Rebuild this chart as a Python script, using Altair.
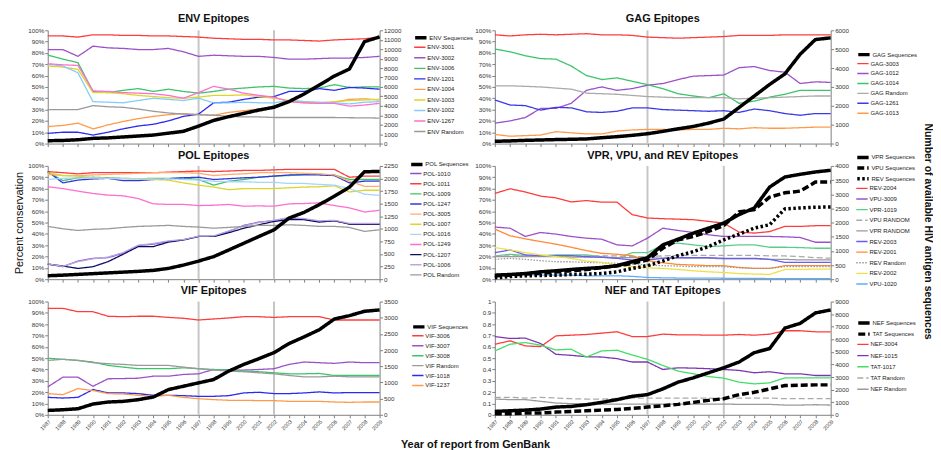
import altair as alt
import pandas as pd

FONT = "Liberation Sans"
YEARS = list(range(1987, 2010))
MARK_YEARS = [1997, 2002]

# ---------------- ENV ----------------
ENV_SEQ = {"ENV Sequences": [300, 330, 400, 550, 600, 700, 800, 900, 1100, 1300, 1850, 2450, 2850, 3200, 3550,
                             3850, 4450, 5250, 6200, 7150, 7900, 10800, 11300]}
ENV_PCT = {
    "ENV-3001": [95, 95, 94, 96, 96, 95.5, 95.5, 95, 95, 94.5, 94, 93, 92.5, 92, 92, 91.5, 91.5, 91, 90.5, 91.5, 92, 92.5, 94],
    "ENV-3002": [83, 83, 77, 86, 84.5, 84, 83, 83, 84, 81, 77, 78, 77.5, 77, 77, 76, 74.5, 74.5, 75, 75.5, 75.5, 76, 77],
    "ENV-1006": [78, 74.5, 71.5, 46, 45, 47, 48.5, 46, 48, 46, 44.5, 46, 48, 49, 50, 50.5, 49, 48.5, 49, 52, 49.5, 50, 50],
    "ENV-1201": [9, 10, 10, 7.5, 10, 13, 15.5, 17, 20, 24, 26, 36, 36.5, 39, 41, 41.5, 46, 46, 48.5, 47, 49.5, 49, 48],
    "ENV-1004": [15, 16, 18, 13, 16.5, 19.5, 22, 24, 25.5, 26.5, 25.5, 25, 27.5, 29, 30.5, 31.5, 37, 36, 35.5, 36.5, 39, 39.5, 38.5],
    "ENV-1003": [68.5, 67.5, 65.5, 45, 45, 44, 42.5, 41.5, 40.5, 40, 41, 42.5, 42.5, 43, 41.5, 40, 38, 37, 36, 37, 38, 38.5, 39],
    "ENV-1002": [70, 68.5, 62.5, 37, 36.5, 36, 38, 40, 39, 38, 40, 36, 36, 36.5, 36, 36, 38, 37, 36.5, 36, 35, 36.5, 37],
    "ENV-1267": [70.5, 69.5, 69, 46.5, 46, 45, 44.5, 44, 42.5, 40, 45, 50.5, 48, 44.5, 42.5, 41, 37, 36, 35.5, 35.5, 33, 34, 35.5],
    "ENV Random": [30, 30, 30, 33.5, 32.5, 32, 30.5, 28.5, 27, 26, 25.5, 25, 24, 23.5, 23.5, 23, 23, 23, 23, 23, 22.8, 22.7, 22.5],
}

# ---------------- GAG ----------------
GAG_SEQ = {"GAG Sequences": [120, 140, 170, 190, 210, 225, 245, 310, 365, 435, 520, 645, 780, 905, 1080, 1300, 1910,
                             2520, 3130, 3690, 4730, 5510, 5600]}
GAG_PCT = {
    "GAG-3003": [96, 95, 96, 96.5, 96, 96.5, 97, 96, 96, 95.5, 94, 93.5, 93, 93.5, 94, 94.5, 95.5, 95.5, 95.5, 96, 96, 96, 96],
    "GAG-1012": [18, 20, 23, 31, 31, 35.5, 47, 50, 47, 48.5, 51.5, 53, 56.5, 59.5, 60, 60.5, 67, 68, 64.5, 63, 53, 54.5, 54],
    "GAG-1014": [83.5, 81, 77.5, 75, 74.5, 68.5, 60, 56.5, 58, 55, 52, 48.5, 44, 42, 40.5, 44, 35.5, 37.5, 41, 43.5, 47, 47, 47],
    "GAG Random": [51, 51, 50.5, 50, 49, 48, 44.5, 44, 43.5, 42.5, 41.5, 41, 40.5, 40.5, 40.5, 40.5, 39.5, 40, 40.5, 41, 41.5, 42, 42],
    "GAG-1261": [38.5, 34, 33.5, 29.5, 32, 31.5, 28, 27.5, 28.5, 31.5, 31.5, 30, 29.5, 29, 28.5, 29, 27.5, 30.5, 29, 26.5, 25, 26.5, 26.5],
    "GAG-1013": [8, 6.5, 7, 7.5, 10.5, 9.5, 8.5, 8.5, 11, 12, 12.5, 12.5, 12, 12.5, 12.5, 13.5, 13, 14, 13.5, 13.5, 14, 14.5, 14.5],
}

# ---------------- POL ----------------
POL_SEQ = {"POL Sequences": [68, 80, 95, 110, 125, 140, 155, 175, 214, 280, 360, 448, 580, 714, 848, 980, 1214, 1328,
                             1480, 1648, 1828, 2134, 2140]}
POL_PCT = {
    "POL-1010": [13.3, 11, 16, 18.4, 19, 22.9, 29.7, 30.9, 33.3, 34.7, 37.7, 37.7, 42.2, 47.5, 50.4, 51.6, 54, 53.1, 51, 51.6, 48.7, 48.7, 48.7],
    "POL-1011": [95, 94, 93, 94, 94, 94, 94, 94, 94.5, 95, 95.5, 95, 95.5, 96, 96, 96.5, 97, 97, 97, 97, 90, 91, 91],
    "POL-1009": [94.7, 87, 89.5, 90, 89.5, 89, 88.7, 89, 89, 89.5, 88, 83, 86.5, 88, 90, 91, 91.5, 92.5, 92.5, 92, 88, 88, 88],
    "POL-1247": [95, 85, 87.5, 88.5, 89, 87, 87, 88, 88.7, 89.5, 90, 88, 88.7, 89.5, 90, 91, 92, 92, 92, 91.5, 85, 86.5, 86.5],
    "POL-3005": [92.5, 91.5, 91.4, 92, 92.5, 93, 93.5, 94, 94, 94, 93.5, 91.5, 92.5, 93, 94, 94, 94, 93.5, 93, 92, 86.5, 82, 82],
    "POL-1007": [94, 91.5, 91, 89.5, 89, 88.7, 88.5, 88, 87.5, 85, 83, 81.3, 79, 80, 80, 80, 80.7, 81.3, 81.6, 82.5, 77, 78.5, 78.5],
    "POL-1016": [88, 89, 89.5, 89.5, 89, 88.7, 88.7, 88.5, 88.7, 88, 87.5, 86.5, 86, 86, 85.5, 85.5, 84.5, 84.5, 83.7, 83, 80, 75, 74],
    "POL-1249": [81.6, 80, 77.7, 75.7, 74.2, 73.6, 71.2, 66.5, 66, 66, 65, 65.3, 66, 64.4, 64.7, 64.4, 66.5, 66.8, 67.4, 65, 63, 59.3, 60.8],
    "POL-1207": [13.3, 11.6, 9.5, 11, 15.5, 22, 28.8, 28.8, 32.7, 34.7, 37.7, 37.7, 41, 45, 48, 51, 52.5, 52.5, 50.4, 51.6, 48.7, 48.7, 48.7],
    "POL-1006": [13.5, 11.3, 15.5, 18, 19.5, 23.5, 30, 31.5, 33.8, 35, 38, 38.2, 42.6, 47, 50, 52, 54.4, 53.5, 51.5, 52, 49.2, 49.2, 49.2],
    "POL Random": [46.6, 44.5, 43, 44, 44.5, 45.7, 46.6, 47, 47.5, 46.6, 46, 45, 45.7, 46.6, 47.5, 47.5, 48, 47.5, 46.6, 46.6, 45.7, 42.2, 43.6],
}

# ---------------- VPR / VPU / REV ----------------
VPR_SEQ = {
    "VPR Sequences": [142, 166, 200, 260, 297, 344, 380, 415, 475, 617, 760, 1210, 1412, 1626, 1804, 1982, 2279, 2516, 3252, 3608, 3703, 3786, 3846],
    "VPU Sequences": [119, 142, 178, 214, 250, 297, 344, 404, 475, 558, 677, 1092, 1389, 1507, 1685, 1899, 2374, 2457, 2896, 3050, 3110, 3430, 3430],
    "REV Sequences": [47, 95, 119, 130, 142, 166, 178, 200, 260, 380, 475, 641, 831, 973, 1151, 1389, 1590, 1804, 1923, 2481, 2516, 2540, 2552],
}
VPR_PCT = {
    "REV-2004": [75.7, 79.8, 77, 73.3, 71.8, 68.2, 69.4, 68, 68, 57, 54, 53.4, 53, 52.5, 51, 49.5, 41.5, 40.7, 42, 46.6, 46.6, 47.2, 47.2],
    "VPU-3009": [46, 45, 37.7, 41.2, 39.8, 37.7, 36.2, 35.3, 30.3, 29.4, 36.2, 45, 43, 41.2, 39.2, 37.7, 37.7, 37.7, 37.7, 37.4, 36.8, 32.6, 32.6],
    "VPR-1019": [20.5, 22, 20.8, 20.8, 21.4, 21.4, 21.4, 19.9, 18.4, 23.4, 23.4, 30.3, 31.8, 30.3, 28.8, 29.4, 30.3, 30.3, 28.2, 28.2, 27.9, 27.3, 27.3],
    "VPU RANDOM": [20.5, 20.5, 20.5, 20.5, 20.5, 20.5, 20.5, 20.5, 20.5, 20, 20, 20.5, 21, 21, 21, 21, 21, 21, 20.5, 20.5, 20, 19, 18.5],
    "VPR RANDOM": [20, 20, 20, 20, 20, 19.5, 19.5, 19.5, 19, 19, 19, 18.5, 18.5, 18.5, 18.5, 18, 18, 18, 17.5, 17.5, 17, 17, 17],
    "REV-2003": [23.4, 25.8, 21.4, 20.8, 20.8, 20.8, 19.9, 19.3, 18.4, 16.9, 16.9, 18.4, 19, 19, 19, 18.4, 18.4, 18.4, 17.5, 14.8, 14.8, 14.8, 14.8],
    "REV-2001": [44.2, 38.3, 35.6, 33.2, 30.9, 28.2, 25.2, 22.8, 22, 20.8, 16.3, 14.5, 13, 12.5, 11.9, 11.9, 10.4, 9.5, 9.5, 11.9, 11.9, 11.9, 11.9],
    "REV Random": [17.5, 18.4, 17.5, 16.3, 15.4, 15.4, 14.8, 14.5, 14, 13.4, 12.5, 11.9, 11.6, 11, 11, 11, 10, 9.5, 9.5, 11, 11, 11, 11],
    "REV-2002": [27.9, 25.8, 23.4, 21.4, 19.9, 18.4, 16, 14.8, 12.5, 11, 10, 9.5, 8.6, 7.4, 6.5, 5.9, 5, 4.5, 4.2, 8.6, 8.6, 8.9, 8.9],
    "VPU-1020": [2, 3.5, 4, 3.5, 3.5, 3.5, 3, 3, 3, 2.5, 1.5, 1.2, 1, 1, 1, 0.8, 0.8, 0.8, 0.5, 0.5, 0.5, 0.5, 0.5],
}

# ---------------- VIF ----------------
VIF_SEQ = {"VIF Sequences": [135, 156, 187, 332, 395, 415, 467, 550, 779, 883, 987, 1090, 1350, 1558, 1734, 1921,
                             2202, 2409, 2628, 2960, 3064, 3199, 3240]}
VIF_PCT = {
    "VIF-3006": [94, 94, 91, 91, 87, 86.6, 87, 87, 86, 85.2, 83.7, 84.6, 85.5, 86.6, 86.6, 86, 86.6, 86.6, 86.6, 83.7, 83.7, 83.7, 83.7],
    "VIF-3007": [24.6, 33.2, 33.2, 25.2, 31.8, 32, 32.3, 34.1, 34.1, 35.6, 36.2, 40, 39.5, 39.5, 40, 40.7, 44.5, 46.6, 46, 45.4, 46.6, 46, 46],
    "VIF-3008": [49.9, 49, 48, 46.6, 43.6, 42.1, 40.7, 40.7, 40.7, 41.5, 40.7, 40, 39.5, 38.6, 38, 37.1, 36.2, 36.2, 36.5, 34.7, 34.7, 34.7, 34.7],
    "VIF Random": [48, 49, 48, 46, 45.1, 44.5, 43.6, 43.6, 43.6, 42.1, 40.7, 39.5, 38.6, 38, 37.1, 36.2, 34.7, 33.5, 33.5, 34.1, 33.5, 33.5, 33.5],
    "VIF-1018": [15.4, 14.8, 15.4, 22.3, 19.3, 19.3, 18.7, 17.2, 17.2, 16.9, 16.3, 16.3, 16.9, 19.3, 19.9, 18.7, 18.7, 19.3, 20.2, 19.3, 19.6, 19.6, 19.6],
    "VIF-1237": [18.7, 17.8, 23.1, 21.4, 18.7, 18.4, 17.2, 16.3, 17.2, 15.4, 14.2, 13.4, 12.8, 12.8, 12.5, 12.5, 11.9, 11.9, 11.9, 11.3, 11, 11.3, 11.3],
}

# ---------------- NEF / TAT ----------------
NEF_SEQ = {
    "NEF Sequences": [267, 320, 374, 454, 614, 668, 801, 988, 1202, 1469, 1602, 2056, 2590, 2938, 3338, 3739, 4193, 4941, 5261, 6890, 7264, 8092, 8332],
    "TAT Sequences": [80, 80, 134, 134, 214, 267, 320, 374, 427, 507, 614, 721, 828, 988, 1148, 1282, 1602, 1789, 2056, 2323, 2350, 2377, 2377],
}
NEF_FRAC = {
    "NEF-3004": [0.623, 0.653, 0.608, 0.602, 0.697, 0.703, 0.709, 0.721, 0.733, 0.691, 0.691, 0.712, 0.706, 0.706, 0.703, 0.703, 0.709, 0.703, 0.712, 0.742, 0.742, 0.733, 0.733],
    "NEF-1015": [0.691, 0.674, 0.677, 0.629, 0.534, 0.525, 0.513, 0.51, 0.496, 0.466, 0.466, 0.4, 0.415, 0.412, 0.407, 0.4, 0.392, 0.371, 0.38, 0.362, 0.362, 0.347, 0.347],
    "TAT-1017": [0.564, 0.623, 0.638, 0.614, 0.573, 0.579, 0.51, 0.564, 0.57, 0.528, 0.49, 0.436, 0.386, 0.362, 0.338, 0.323, 0.288, 0.273, 0.282, 0.326, 0.326, 0.326, 0.326],
    "TAT Random": [0.154, 0.154, 0.148, 0.154, 0.148, 0.142, 0.139, 0.139, 0.145, 0.148, 0.148, 0.148, 0.148, 0.148, 0.148, 0.142, 0.148, 0.148, 0.148, 0.142, 0.142, 0.142, 0.142],
    "NEF Random": [0.139, 0.134, 0.134, 0.119, 0.104, 0.098, 0.098, 0.095, 0.095, 0.095, 0.095, 0.095, 0.095, 0.095, 0.095, 0.095, 0.092, 0.092, 0.092, 0.086, 0.086, 0.089, 0.086],
}

# ---------------- styles ----------------
RED, PURPLE, GREEN, BLUE = "#ff3c3c", "#9b52c9", "#3cc46a", "#2a2af0"
ORANGE, YELLOW, LBLUE, PINK, GRAY = "#ff9a4a", "#dcd62a", "#82cdfb", "#ff6fcf", "#9a9a9a"
COLORS = {
    "ENV Sequences": "#000000", "ENV-3001": RED, "ENV-3002": PURPLE, "ENV-1006": GREEN, "ENV-1201": BLUE,
    "ENV-1004": ORANGE, "ENV-1003": YELLOW, "ENV-1002": LBLUE, "ENV-1267": PINK, "ENV Random": GRAY,
    "GAG Sequences": "#000000", "GAG-3003": RED, "GAG-1012": PURPLE, "GAG-1014": GREEN, "GAG Random": "#aaaaaa",
    "GAG-1261": "#3a3ae6", "GAG-1013": ORANGE,
    "POL Sequences": "#000000", "POL-1010": "#8a4fd0", "POL-1011": RED, "POL-1009": GREEN, "POL-1247": "#3535dc",
    "POL-3005": "#ffaa6e", "POL-1007": YELLOW, "POL-1016": "#a6d4ff", "POL-1249": PINK, "POL-1207": "#0a0a66",
    "POL-1006": "#b9a8de", "POL Random": GRAY,
    "VPR Sequences": "#000000", "VPU Sequences": "#000000", "REV Sequences": "#000000", "REV-2004": RED,
    "VPU-3009": PURPLE, "VPR-1019": "#5acc8c", "VPU RANDOM": "#aaaaaa", "VPR RANDOM": "#999999", "REV-2003": "#6a5cf0",
    "REV-2001": "#ff8a36", "REV Random": "#999999", "REV-2002": "#ece048", "VPU-1020": "#5aaeff",
    "VIF Sequences": "#000000", "VIF-3006": RED, "VIF-3007": PURPLE, "VIF-3008": GREEN, "VIF Random": GRAY,
    "VIF-1018": BLUE, "VIF-1237": ORANGE,
    "NEF Sequences": "#000000", "TAT Sequences": "#000000", "NEF-3004": RED, "NEF-1015": "#7a36b4",
    "TAT-1017": "#44dd66", "TAT Random": "#aaaaaa", "NEF Random": GRAY,
}
DASHES = {
    "VPU Sequences": [7, 3], "REV Sequences": [2.5, 2.5], "VPU RANDOM": [6, 3], "REV Random": [1.5, 1.5],
    "TAT Sequences": [7, 3], "TAT Random": [6, 3],
}
SOLID = [1, 0]
W_LEFT, W_RIGHT, H = 334, 338, 114
E_THIN = 10.0  # legend entry height for thin symbols (before row padding)


def long_df(d, scale=1.0):
    rows = []
    for name, vals in d.items():
        for yr, v in zip(YEARS, vals):
            rows.append({"year": yr, "series": name, "v": v * scale})
    return pd.DataFrame(rows)


def make_legend(lx, ly, rp, sw):
    return alt.Legend(
        title=None, orient="none", legendX=lx, legendY=ly, symbolType="stroke", symbolSize=130,
        labelFontSize=6, labelFont=FONT, labelColor="#222222", rowPadding=rp, padding=0, labelOffset=1,
        symbolStrokeWidth=sw,
    )


def enc(names, legend):
    color = alt.Color("series:N", scale=alt.Scale(domain=names, range=[COLORS[n] for n in names]),
                      legend=legend, sort=names)
    dash = alt.StrokeDash("series:N", scale=alt.Scale(domain=names, range=[DASHES.get(n, SOLID) for n in names]),
                          legend=legend, sort=names)
    return color, dash


def panel(title, seq, pct, pct_scale, ymax, ystep, width, lx, ly, pitch, bottom=False,
          left_title=None, pct_fmt=".0%", x_title=None, title_offset=3):
    seq_names, pct_names = list(seq), list(pct)

    if bottom:
        xkw = dict(values=YEARS, format="d", labelAngle=-45, labelFontSize=5.5, labelFont=FONT,
                   tickSize=3, labelPadding=1, labelColor="#333333")
        if x_title:
            xkw.update(title=x_title, titleX=430, titleY=24, titleAlign="center", titleBaseline="top",
                       titleFont=FONT, titleFontSize=11, titleFontWeight="bold", titleColor="#111111")
        else:
            xkw.update(title=None)
        xaxis = alt.Axis(**xkw)
    else:
        xaxis = alt.Axis(values=YEARS, labels=False, tickSize=3, title=None)
    x = alt.X("year:Q", scale=alt.Scale(domain=[1987, 2009], nice=False, zero=False), axis=xaxis)

    rules = alt.Chart(pd.DataFrame({"year": MARK_YEARS})).mark_rule(color="#c6c6c6", strokeWidth=2).encode(x=x)

    lvals = [i / 10 for i in range(11)]
    laxis_kw = dict(orient="left", values=lvals, format=pct_fmt, tickSize=3, labelPadding=1,
                    labelFontSize=6.3, labelFont=FONT, labelColor="#333333")
    if left_title:
        laxis_kw.update(title=left_title, titleFont=FONT, titleFontSize=11, titleFontWeight="normal",
                        titlePadding=3, titleColor="#111111")
    else:
        laxis_kw.update(title=None)
    pct_color, pct_dash = enc(pct_names, make_legend(lx, ly + pitch * len(seq_names), pitch - E_THIN, 1.4))
    pct_line = alt.Chart(long_df(pct, pct_scale)).mark_line(strokeWidth=1.3).encode(
        x=x,
        y=alt.Y("v:Q", scale=alt.Scale(domain=[0, 1], nice=False), axis=alt.Axis(**laxis_kw)),
        color=pct_color, strokeDash=pct_dash,
    )
    raxis = alt.Axis(orient="right", values=list(range(0, ymax + 1, ystep)), format="d", tickSize=3,
                     labelPadding=1, labelFontSize=6.3, labelFont=FONT, labelColor="#333333", title=None)
    seq_layers = []
    for i, name in enumerate(seq_names):
        c, d = enc([name], make_legend(lx, ly + pitch * i, 0, 3.5))
        seq_layers.append(
            alt.Chart(long_df({name: seq[name]})).mark_line(strokeWidth=3.5).encode(
                x=x,
                y=alt.Y("v:Q", scale=alt.Scale(domain=[0, ymax], nice=False), axis=raxis if i == 0 else None),
                color=c, strokeDash=d,
            )
        )
    return alt.layer(rules, pct_line, *seq_layers).resolve_scale(
        y="independent", color="independent", strokeDash="independent"
    ).properties(
        width=width, height=H,
        title=alt.TitleParams(title, font=FONT, fontSize=11, fontWeight="bold", offset=title_offset,
                              color="#111111", frame="group"),
    )


env = panel("ENV Epitopes", ENV_SEQ, ENV_PCT, 0.01, 12000, 1000, W_LEFT, 368, 0, 10.6)
gag = panel("GAG Epitopes", GAG_SEQ, GAG_PCT, 0.01, 6000, 1000, W_RIGHT, 364, 17, 10.0)
pol = panel("POL Epitopes", POL_SEQ, POL_PCT, 0.01, 2250, 250, W_LEFT, 364, -9, 10.2,
            left_title="Percent conservation", title_offset=-4)
vpr = panel("VPR, VPU, and REV Epitopes", VPR_SEQ, VPR_PCT, 0.01, 4000, 500, W_RIGHT, 363, -16, 10.7,
            title_offset=-11)
vif = panel("VIF Epitopes", VIF_SEQ, VIF_PCT, 0.01, 3500, 500, W_LEFT, 366, 18, 10.0, bottom=True,
            x_title="Year of report from GenBank")
nef = panel("NEF and TAT Epitopes", NEF_SEQ, NEF_FRAC, 1.0, 9000, 1000, W_RIGHT, 364, 14, 11.3, bottom=True,
            pct_fmt=".1~f")

chart = alt.concat(
    env, gag, pol, vpr, vif, nef, columns=2, spacing={"row": 22.5, "column": 116}, bounds="flush", align="each",
    title=alt.TitleParams("Number of available HIV antigen sequences", orient="right", anchor="middle",
                          font=FONT, fontSize=10.5, fontWeight="bold", offset=4, color="#111111"),
).resolve_scale(
    color="independent", strokeDash="independent"
).configure_view(
    stroke=None
).configure_axis(
    domainColor="#808080", tickColor="#808080", grid=False
).properties(
    padding={"left": 5, "top": 4, "right": 0, "bottom": 0}
)

chart.save("out.html", embed_options={"renderer": "svg", "actions": False})
